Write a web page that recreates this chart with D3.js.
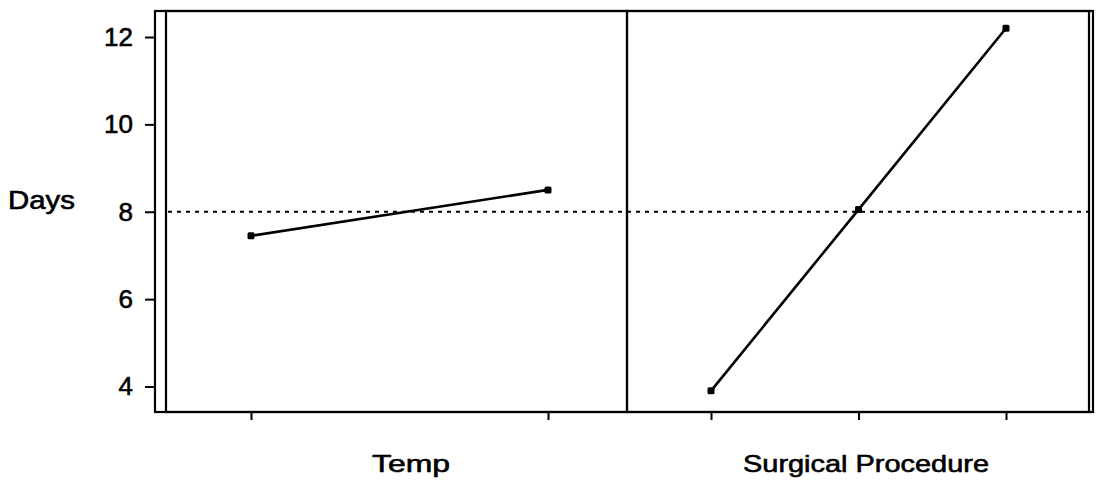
<!DOCTYPE html>
<html>
<head>
<meta charset="utf-8">
<script src="https://cdn.jsdelivr.net/npm/d3@7"></script>
<style>
  html, body { margin: 0; padding: 0; background: #fff; }
  svg { display: block; }
  text { font-family: "Liberation Sans", Arial, sans-serif; fill: #000; }
</style>
</head>
<body>
<svg id="chart" width="1103" height="490"></svg>
<script>
// ---- data ----
const factors = ["Temp", "Surgical Procedure"];
const tempLevels = ["Low", "High"];
const tempMeans = [7.45, 8.5];
const surgLevels = ["1", "2", "3"];
const surgMeans = [3.9, 8.05, 12.2];
const grandMean = 8.0;
const yTicks = [4, 6, 8, 10, 12];
const yLabel = "Days";

// ---- layout ----
const frame = { left: 155, top: 11, right: 1093, bottom: 412 };
const panels = [
  { left: 166, right: 627, range: [251, 548], levels: tempLevels, means: tempMeans, label: factors[0], labelLen: 78, labelX: 372 },
  { left: 627, right: 1089, range: [711, 1006], levels: surgLevels, means: surgMeans, label: factors[1], labelLen: 246, labelX: 743 }
];

const svg = d3.select("#chart");
const y = d3.scaleLinear().domain([4, 12]).range([386.5, 37]);

// Frame
svg.append("rect")
  .attr("x", frame.left).attr("y", frame.top)
  .attr("width", frame.right - frame.left).attr("height", frame.bottom - frame.top)
  .attr("fill", "none").attr("stroke", "#000").attr("stroke-width", 2.2);

// Panel borders
panels.forEach(p => {
  svg.append("rect")
    .attr("x", p.left).attr("y", frame.top)
    .attr("width", p.right - p.left).attr("height", frame.bottom - frame.top)
    .attr("fill", "none").attr("stroke", "#000").attr("stroke-width", 2.2);
});

// Y axis
const yAxis = d3.axisLeft(y).tickValues(yTicks).tickSize(10).tickPadding(12).tickFormat(d3.format("d"));
const gy = svg.append("g").attr("transform", `translate(${frame.left},0)`).call(yAxis);
gy.select(".domain").remove();
gy.selectAll(".tick line").attr("stroke", "#000").attr("stroke-width", 2);
gy.selectAll(".tick text").attr("font-size", 26).attr("font-family", "Liberation Sans, Arial, sans-serif")
  .attr("fill", "#000").attr("stroke", "#000").attr("stroke-width", 0.6);

// Y label
svg.append("text")
  .attr("x", 8).attr("y", 209)
  .attr("font-size", 25)
  .attr("stroke", "#000").attr("stroke-width", 0.6)
  .attr("textLength", 67).attr("lengthAdjust", "spacingAndGlyphs")
  .text(yLabel);

// Reference line (grand mean)
svg.append("line")
  .attr("x1", panels[0].left + 2).attr("x2", panels[1].right)
  .attr("y1", y(grandMean)).attr("y2", y(grandMean))
  .attr("stroke", "#000").attr("stroke-width", 2)
  .attr("stroke-dasharray", "4,5");

// Panels content
panels.forEach(p => {
  const x = d3.scalePoint().domain(p.levels).range(p.range);
  const xAxis = d3.axisBottom(x).tickSize(8).tickFormat("");
  const gx = svg.append("g").attr("transform", `translate(0,${frame.bottom})`).call(xAxis);
  gx.select(".domain").remove();
  gx.selectAll(".tick line").attr("stroke", "#000").attr("stroke-width", 2);

  const pts = p.levels.map((l, i) => ({ l, v: p.means[i] }));
  svg.append("path")
    .datum(pts)
    .attr("fill", "none").attr("stroke", "#000").attr("stroke-width", 2.6)
    .attr("d", d3.line().x(d => x(d.l)).y(d => y(d.v)));

  svg.selectAll(null).data(pts).enter().append("rect")
    .attr("x", d => x(d.l) - 3.5).attr("y", d => y(d.v) - 3.5)
    .attr("width", 7).attr("height", 7).attr("rx", 1.5)
    .attr("fill", "#000");

  svg.append("text")
    .attr("x", p.labelX)
    .attr("y", 472)
    .attr("font-size", 24)
    .attr("stroke", "#000").attr("stroke-width", 0.6)
    .attr("textLength", p.labelLen).attr("lengthAdjust", "spacingAndGlyphs")
    .text(p.label);
});
</script>
</body>
</html>
